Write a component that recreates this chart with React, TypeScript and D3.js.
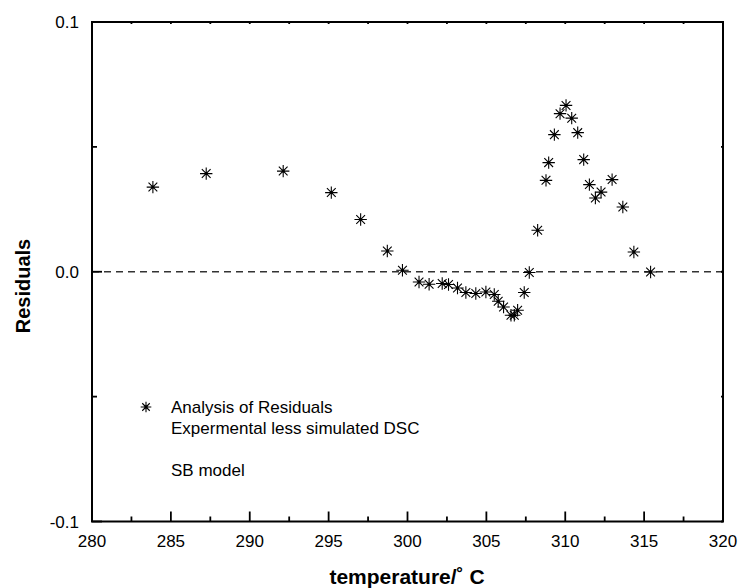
import React from "react";
import * as d3 from "d3";

const temps = [283.86, 287.24, 292.12, 295.17, 297.03, 298.72, 299.68, 300.73, 301.37, 302.2, 302.6, 303.17, 303.7, 304.33, 304.97, 305.5, 305.75, 306.09, 306.56, 306.77, 306.98, 307.4, 307.72, 308.25, 308.78, 308.95, 309.31, 309.67, 310.05, 310.41, 310.79, 311.17, 311.53, 311.91, 312.27, 312.97, 313.65, 314.35, 315.41];
const residuals = [0.0339, 0.0393, 0.0403, 0.0317, 0.0209, 0.0083, 0.0006, -0.0041, -0.005, -0.0047, -0.0051, -0.0065, -0.0083, -0.0087, -0.0081, -0.0091, -0.0118, -0.0141, -0.0174, -0.0174, -0.0154, -0.0083, -0.0003, 0.0166, 0.0366, 0.0437, 0.0549, 0.0633, 0.0666, 0.0615, 0.0557, 0.0449, 0.0349, 0.0295, 0.0319, 0.0369, 0.0259, 0.0079, -0.0001];

const xMajorTicks = [280, 285, 290, 295, 300, 305, 310, 315, 320];
const xMinorTicks = [282.5, 287.5, 292.5, 297.5, 302.5, 307.5, 312.5, 317.5];
const yMajorTicks = [0.1, 0.0, -0.1];
const yTickLabels = ["0.1", "0.0", "-0.1"];
const yMinorTicks = [0.05, -0.05];
const legendLines = ["Analysis of Residuals", "Expermental less simulated DSC", "", "SB model"];

const W = 741, H = 588;
const left = 92, right = 723, top = 22, bottom = 521.5;
const font = "Arial, 'Liberation Sans', Helvetica, sans-serif";

function Star({ x, y, r }: { x: number; y: number; r: number }) {
  const d = r * Math.SQRT1_2;
  const p = `M${x - r},${y}L${x + r},${y}M${x},${y - r}L${x},${y + r}M${x - d},${y - d}L${x + d},${y + d}M${x - d},${y + d}L${x + d},${y - d}`;
  return (
    <g>
      <path d={p} stroke="#000" strokeWidth={1.1} fill="none" />
      <circle cx={x} cy={y} r={1.4} fill="#000" />
    </g>
  );
}

export default function App() {
  const x = d3.scaleLinear().domain([280, 320]).range([left, right]);
  const y = d3.scaleLinear().domain([-0.1, 0.1]).range([bottom, top]);

  return (
    <svg width={W} height={H} style={{ position: "absolute", left: 0, top: 0, background: "#fff" }}>
      <rect x={0} y={0} width={W} height={H} fill="#fff" />
      {/* zero line */}
      <line x1={left} x2={right} y1={y(0)} y2={y(0)} stroke="#333" strokeWidth={1.4} strokeDasharray="7,5" />
      {/* frame */}
      <rect x={left} y={top} width={right - left} height={bottom - top} fill="none" stroke="#000" strokeWidth={2} />
      {/* bottom ticks */}
      {xMajorTicks.map((t) => (
        <g key={"xb" + t}>
          <line x1={x(t)} x2={x(t)} y1={bottom} y2={bottom - 10} stroke="#000" strokeWidth={1.8} />
          <line x1={x(t)} x2={x(t)} y1={top} y2={top + 2} stroke="#000" strokeWidth={1.8} />
          <text x={x(t)} y={547} textAnchor="middle" fontFamily={font} fontSize={17}>{t}</text>
        </g>
      ))}
      {xMinorTicks.map((t) => (
        <g key={"xm" + t}>
          <line x1={x(t)} x2={x(t)} y1={bottom} y2={bottom - 5} stroke="#000" strokeWidth={1.8} />
          <line x1={x(t)} x2={x(t)} y1={top} y2={top + 2} stroke="#000" strokeWidth={1.8} />
        </g>
      ))}
      {yMajorTicks.map((t, i) => (
        <g key={"yb" + t}>
          <line x1={left} x2={left + 10} y1={y(t)} y2={y(t)} stroke="#000" strokeWidth={1.8} />
          <line x1={right} x2={right - 2} y1={y(t)} y2={y(t)} stroke="#000" strokeWidth={1.8} />
          <text x={79} y={y(t) + 6} textAnchor="end" fontFamily={font} fontSize={17}>{yTickLabels[i]}</text>
        </g>
      ))}
      {yMinorTicks.map((t) => (
        <g key={"ym" + t}>
          <line x1={left} x2={left + 5} y1={y(t)} y2={y(t)} stroke="#000" strokeWidth={1.8} />
          <line x1={right} x2={right - 2} y1={y(t)} y2={y(t)} stroke="#000" strokeWidth={1.8} />
        </g>
      ))}
      {/* data */}
      {temps.map((t, i) => (
        <Star key={"p" + i} x={x(t)} y={y(residuals[i])} r={6.2} />
      ))}
      {/* legend */}
      <Star x={146} y={407} r={5.3} />
      {legendLines.map((s, i) => (
        <text key={"l" + i} x={171} y={413 + i * 21} fontFamily={font} fontSize={17}>{s}</text>
      ))}
      {/* axis titles */}
      <text x={407} y={584} textAnchor="middle" fontFamily={font} fontSize={21} fontWeight="bold">temperature/˚ C</text>
      <text transform={`translate(30,${286}) rotate(-90)`} textAnchor="middle" fontFamily={font} fontSize={20} fontWeight="bold">Residuals</text>
    </svg>
  );
}
